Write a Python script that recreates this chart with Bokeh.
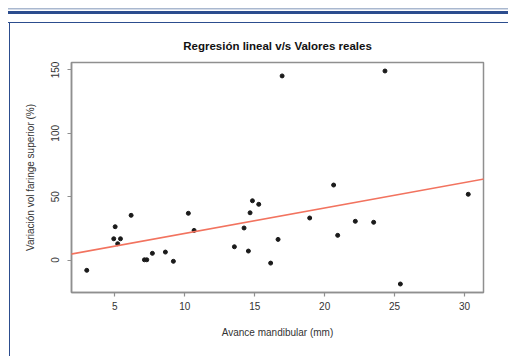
from bokeh.plotting import figure
from bokeh.models import FixedTicker, Slope, Div
from bokeh.layouts import column, row
from bokeh.embed import file_html
from bokeh.resources import INLINE

# data
avance_mm = [3.0, 5.03, 4.93, 5.41, 5.21, 6.17, 7.12, 7.29, 7.69, 8.62, 9.19,
             10.26, 10.67, 13.55, 14.24, 14.55, 14.67, 14.84, 15.29, 16.14,
             16.67, 16.96, 18.93, 20.64, 20.93, 22.19, 23.5, 24.31, 25.41, 30.26]
variacion_pct = [-8.1, 26.3, 16.8, 16.8, 12.9, 35.3, 0.2, 0.2, 5.3, 6.3, -1.0,
                 36.9, 23.4, 10.5, 25.3, 7.1, 37.3, 46.8, 44.0, -2.4,
                 16.3, 145.3, 33.2, 59.2, 19.5, 30.6, 29.8, 149.2, -18.9, 51.9]
reg_intercept = 0.9
reg_slope = 2.01
x_ticks = [5, 10, 15, 20, 25, 30]
y_ticks = [0, 50, 100, 150]

FONT = "Liberation Sans"
TXT = "#333333"
BLUE = "#2c4d8e"

p = figure(width=498, height=333, output_backend="svg", toolbar_location=None,
           x_range=(1.91, 31.35), y_range=(-25.6, 155.9),
           min_border_left=61, min_border_right=25, min_border_top=39, min_border_bottom=64,
           title="Regresión lineal v/s Valores reales")
p.margin = 0
p.background_fill_color = "white"
p.border_fill_color = "white"
p.outline_line_color = "#8f8f8f"
p.outline_line_width = 1.5
p.grid.visible = False

p.title.align = "center"
p.title.text_font = FONT
p.title.text_font_size = "11.5px"
p.title.text_font_style = "bold"
p.title.text_color = "#111111"
if "standoff" in p.title.properties():
    p.title.standoff = 21

for ax in (p.xaxis[0], p.yaxis[0]):
    ax.axis_line_color = "#8f8f8f"
    ax.axis_line_width = 1.5
    ax.major_tick_line_color = "#8f8f8f"
    ax.major_tick_line_width = 1.2
    ax.major_tick_in = 0
    ax.major_tick_out = 4
    ax.minor_tick_line_color = None
    ax.major_label_text_font = FONT
    ax.major_label_text_font_size = "10px"
    ax.major_label_text_color = TXT
    ax.axis_label_text_font = FONT
    ax.axis_label_text_font_size = "10px"
    ax.axis_label_text_font_style = "normal"
    ax.axis_label_text_color = TXT

p.xaxis.ticker = FixedTicker(ticks=x_ticks)
p.yaxis.ticker = FixedTicker(ticks=y_ticks)
p.xaxis.axis_label = "Avance mandibular (mm)"
p.yaxis.axis_label = "Variación vol faringe superior (%)"
p.xaxis.major_label_standoff = 5
p.xaxis.axis_label_standoff = 14
p.yaxis.major_label_orientation = "vertical"
p.yaxis.major_label_standoff = 8
p.yaxis.axis_label_standoff = 13

p.add_layout(Slope(gradient=reg_slope, y_intercept=reg_intercept,
                   line_color="#f2735f", line_width=1.6))
p.scatter(avance_mm, variacion_pct, size=4, color="#1a1a1a")

# page decoration: double rule on top and the blue frame of the box
top_rule = Div(text="", width=508, height=23, margin=0, styles={
    "background": (
        "linear-gradient(#a9b8cf,#a9b8cf) 8px 8px / 500px 1.5px no-repeat, "
        f"linear-gradient({BLUE},{BLUE}) 8px 11px / 500px 3px no-repeat, "
        f"linear-gradient({BLUE},{BLUE}) 8px 21.5px / 500px 1.5px no-repeat, "
        "white"
    )
})
left_rule = Div(text="", width=10, height=333, margin=0, styles={
    "background": f"linear-gradient({BLUE},{BLUE}) 8.5px 0px / 1.5px 333px no-repeat, white"
})
page = column(top_rule, row(left_rule, p, spacing=0), spacing=0)

open("out.html", "w").write(file_html(page, INLINE))
